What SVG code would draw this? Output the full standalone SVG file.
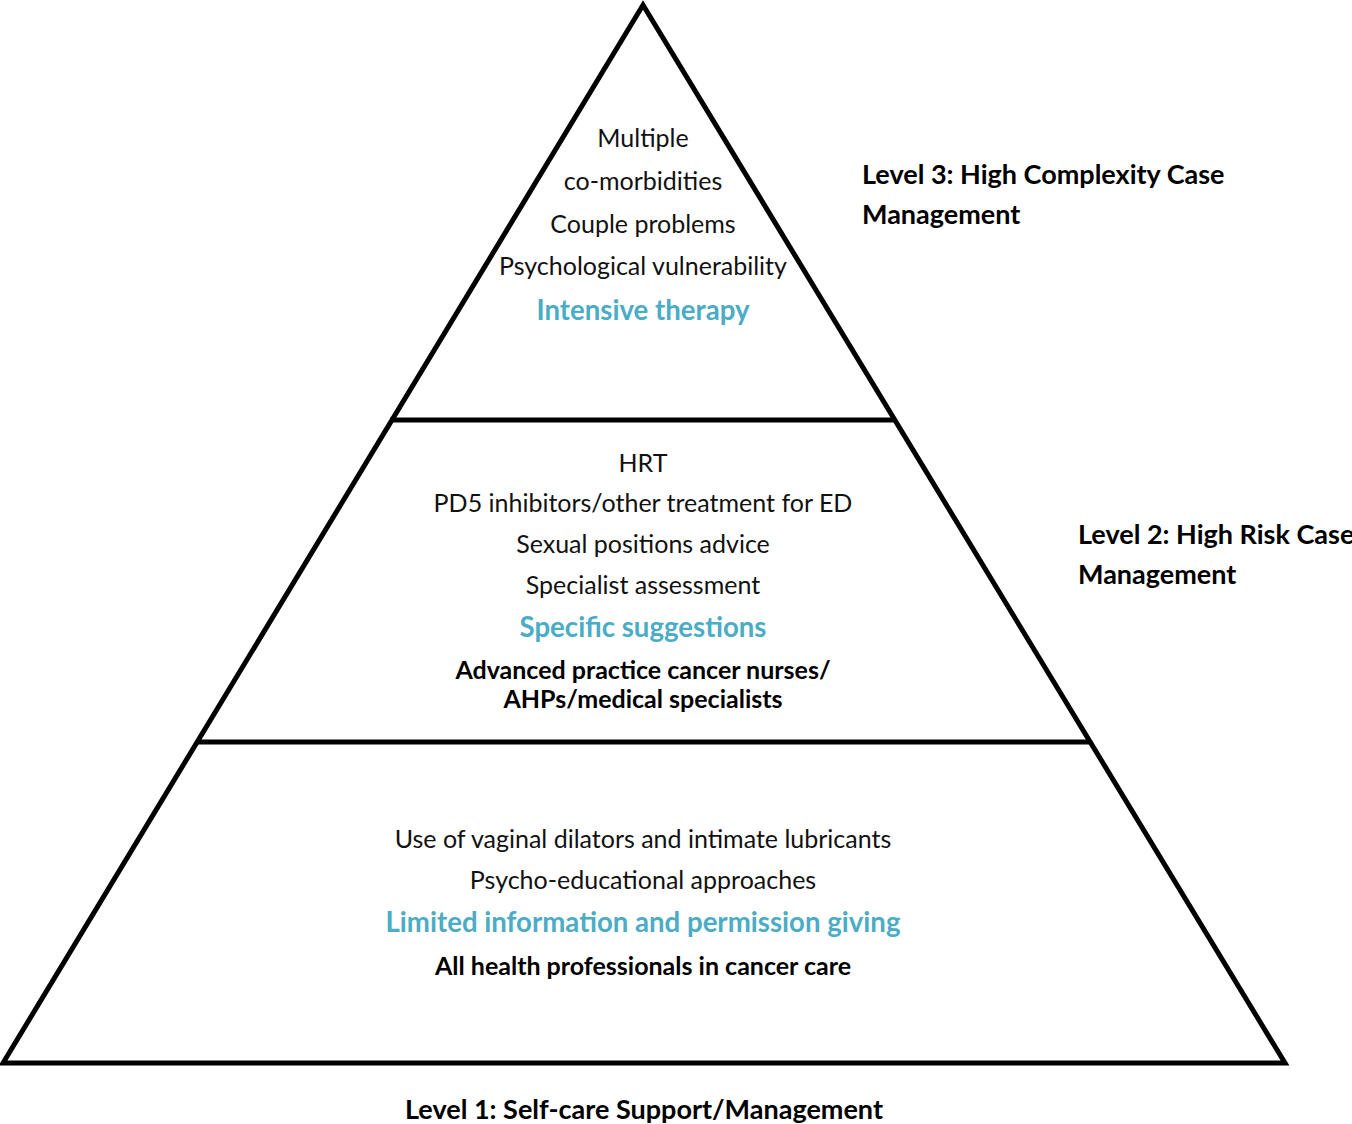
<svg xmlns="http://www.w3.org/2000/svg" width="1352" height="1124" viewBox="0 0 1352 1124">
  <style>
    text { font-family: Lato, "Open Sans", "Liberation Sans", sans-serif; }
    .item { font-size: 25px; fill: #111; text-anchor: middle; }
    .approach { font-size: 27.6px; font-weight: bold; fill: #4bacc6; text-anchor: middle; }
    .staff { font-size: 25px; font-weight: bold; fill: #000; text-anchor: middle; }
    .level { font-size: 27px; font-weight: bold; fill: #000; }
    .edge { fill: none; stroke: #000; stroke-width: 5; stroke-linejoin: miter; }
  </style>
  <rect width="1352" height="1124" fill="#fff"/>

  <!-- pyramid outline and tier dividers -->
  <g id="connectors">
    <polygon class="edge" points="643,5 1285,1063 3,1063"/>
    <line class="edge" x1="390" y1="420" x2="894" y2="420"/>
    <line class="edge" x1="197" y1="742" x2="1089" y2="742"/>
  </g>

  <g id="tier3">
    <text class="item" x="643" y="147">Multiple</text>
    <text class="item" x="643" y="190">co-morbidities</text>
    <text class="item" x="643" y="233">Couple problems</text>
    <text class="item" x="643" y="275">Psychological vulnerability</text>
    <text class="approach" x="643" y="320">Intensive therapy</text>
  </g>

  <g id="tier2">
    <text class="item" x="643" y="472">HRT</text>
    <text class="item" x="643" y="512">PD5 inhibitors/other treatment for ED</text>
    <text class="item" x="643" y="553">Sexual positions advice</text>
    <text class="item" x="643" y="594">Specialist assessment</text>
    <text class="approach" x="643" y="637">Specific suggestions</text>
    <text class="staff" x="643" y="679">Advanced practice cancer nurses/</text>
    <text class="staff" x="643" y="708">AHPs/medical specialists</text>
  </g>

  <g id="tier1">
    <text class="item" x="643" y="848">Use of vaginal dilators and intimate lubricants</text>
    <text class="item" x="643" y="889">Psycho-educational approaches</text>
    <text class="approach" x="643" y="932">Limited information and permission giving</text>
    <text class="staff" x="643" y="975">All health professionals in cancer care</text>
  </g>

  <g id="level3-label">
    <text class="level" x="862" y="184">Level 3: High Complexity Case</text>
    <text class="level" x="862" y="224">Management</text>
  </g>
  <g id="level2-label">
    <text class="level" x="1078" y="544">Level 2: High Risk Case</text>
    <text class="level" x="1078" y="584">Management</text>
  </g>
  <g id="level1-label">
    <text class="level" x="644" y="1119" text-anchor="middle">Level 1: Self-care Support/Management</text>
  </g>
</svg>
